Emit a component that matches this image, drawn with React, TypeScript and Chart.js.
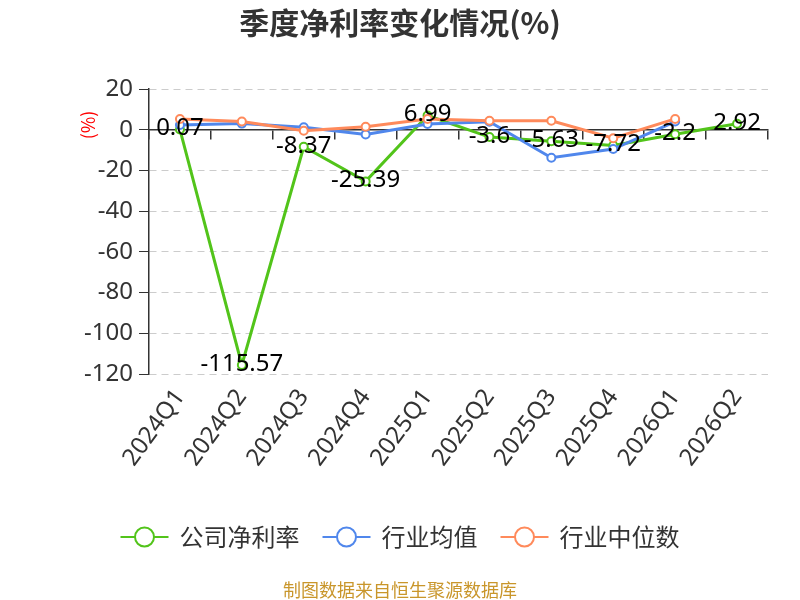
import { useEffect, useRef } from "react"
import { Chart, Plugin, registerables } from "chart.js"

Chart.register(...registerables)

// quarters on the x axis
const quarters = ["2024Q1", "2024Q2", "2024Q3", "2024Q4", "2025Q1", "2025Q2", "2025Q3", "2025Q4", "2026Q1", "2026Q2"]

// net margin, %
const companyMargin = [0.07, -115.57, -8.37, -25.39, 6.99, -3.6, -5.63, -7.72, -2.2, 2.92]
const industryAvg = [2.3, 3, 1.2, -2.3, 2.8, 3.9, -13.8, -9.5, 4, null]
const industryMedian = [5.3, 4, -0.5, 1.5, 5.3, 4.4, 4.4, -4.2, 5.3, null]

const yMin = -120
const yMax = 20
const yStep = 20

const seriesNames = ["公司净利率", "行业均值", "行业中位数"]
const GREEN = "#52c41a"
const BLUE = "#5087ec"
const ORANGE = "#ff8a5b"
const colors = [GREEN, BLUE, ORANGE]

const NUM_FONT = "'Noto Sans', 'Noto Sans CJK SC', sans-serif"
const CJK_FONT = "'Noto Sans CJK SC', sans-serif"

const overlay: Plugin<"line"> = {
  id: "overlay",
  afterDatasetsDraw(chart) {
    const ctx = chart.ctx
    const meta = chart.getDatasetMeta(0)
    ctx.save()
    ctx.font = `24px ${NUM_FONT}`
    ctx.fillStyle = "#000"
    ctx.textAlign = "center"
    ctx.textBaseline = "middle"
    meta.data.forEach((pt, i) => {
      ctx.fillText(String(companyMargin[i]), pt.x, pt.y - 1)
    })
    ctx.restore()
  },
  afterDraw(chart) {
    const ctx = chart.ctx
    ctx.save()

    // title
    ctx.font = `bold 30px ${CJK_FONT}`
    ctx.fillStyle = "#333"
    ctx.textAlign = "center"
    ctx.textBaseline = "middle"
    ctx.fillText("季度净利率变化情况(%)", 400, 23)

    // y axis unit
    ctx.save()
    ctx.translate(88, 125)
    ctx.rotate(-Math.PI / 2)
    ctx.font = `18px ${CJK_FONT}`
    ctx.fillStyle = "#ff0000"
    ctx.fillText("(%)", 0, 0)
    ctx.restore()

    // legend
    ctx.font = `24px ${CJK_FONT}`
    ctx.textAlign = "left"
    const iconW = 48
    const iconGap = 11
    const itemGap = 23
    const widths = seriesNames.map((n) => ctx.measureText(n).width)
    const total = widths.reduce((a, w) => a + iconW + iconGap + w, 0) + itemGap * (seriesNames.length - 1)
    let x = 400 - total / 2
    const ly = 537
    seriesNames.forEach((name, i) => {
      ctx.strokeStyle = colors[i]
      ctx.lineWidth = 2
      ctx.beginPath()
      ctx.moveTo(x, ly)
      ctx.lineTo(x + iconW, ly)
      ctx.stroke()
      ctx.beginPath()
      ctx.arc(x + iconW / 2, ly, 9.5, 0, Math.PI * 2)
      ctx.fillStyle = "#fff"
      ctx.fill()
      ctx.stroke()
      ctx.fillStyle = "#333"
      ctx.fillText(name, x + iconW + iconGap, ly)
      x += iconW + iconGap + widths[i] + itemGap
    })

    // source note
    ctx.font = `18px ${CJK_FONT}`
    ctx.textAlign = "center"
    ctx.fillStyle = "#c9962b"
    ctx.fillText("制图数据来自恒生聚源数据库", 400, 590)
    ctx.restore()
  },
}

export default function App() {
  const canvasRef = useRef<HTMLCanvasElement | null>(null)

  useEffect(() => {
    if (!canvasRef.current) return

    const series = [companyMargin, industryAvg, industryMedian]
    const chart = new Chart(canvasRef.current, {
      type: "line",
      data: {
        labels: quarters,
        datasets: series.map((values, i) => ({
          label: seriesNames[i],
          data: values,
          borderColor: colors[i],
          backgroundColor: colors[i],
          borderWidth: 3,
          pointRadius: 4,
          pointBorderWidth: 2,
          pointBackgroundColor: "#fff",
          pointBorderColor: colors[i],
          tension: 0,
          order: 3 - i,
        })),
      },
      options: {
        responsive: true,
        maintainAspectRatio: false,
        animation: false,
        layout: { padding: { top: 89, right: 32, left: 0, bottom: 0 } },
        plugins: {
          legend: { display: false },
          title: { display: false },
          tooltip: { enabled: false },
        },
        scales: {
          x: {
            type: "category",
            offset: true,
            grid: { display: false, drawTicks: false },
            border: { display: false },
            ticks: {
              color: "#333",
              font: { size: 24, family: NUM_FONT },
              minRotation: 54,
              maxRotation: 54,
              autoSkip: false,
              padding: 10,
            },
            afterFit(scale) {
              scale.height = 226
            },
          },
          xZero: {
            type: "category",
            axis: "x",
            offset: true,
            position: { y: 0 },
            ticks: { display: false },
            grid: { drawOnChartArea: false, offset: true, tickLength: 9, color: "#333", lineWidth: 1.5 },
            border: { color: "#333", width: 1.5 },
          },
          y: {
            min: yMin,
            max: yMax,
            ticks: {
              stepSize: yStep,
              color: "#333",
              font: { size: 24, family: NUM_FONT },
              padding: 6,
            },
            grid: { color: "#ccc", tickColor: "#333", tickLength: 10, lineWidth: 1, z: -1 },
            border: { color: "#333", width: 1.5, dash: [7, 5] },
            afterFit(scale) {
              scale.width = 149
            },
          },
        },
      },
      plugins: [overlay],
    })

    return () => chart.destroy()
  }, [])

  return (
    <div style={{ position: "absolute", left: 0, top: 0, width: 800, height: 600 }}>
      <canvas ref={canvasRef} />
    </div>
  )
}
